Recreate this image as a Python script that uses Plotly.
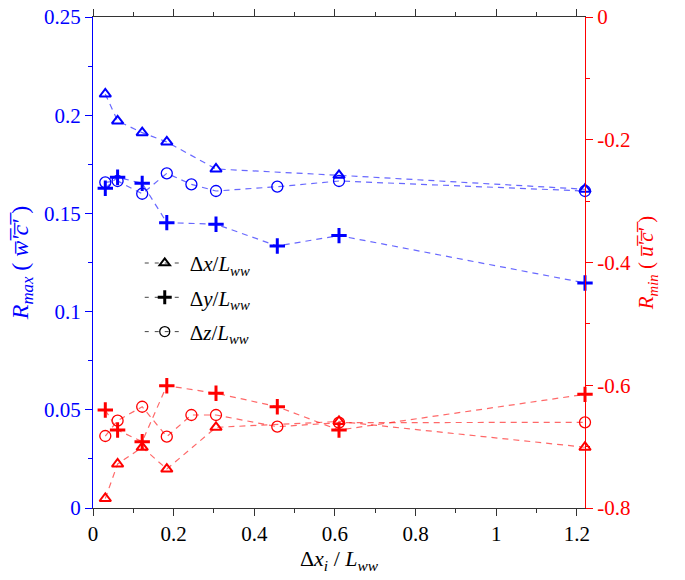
import plotly.graph_objects as go

# Left axis (R_max), blue
x_tri_max = [0.0305, 0.061, 0.122, 0.183, 0.305, 0.61, 1.22]
rmax_dx = [0.2108, 0.1971, 0.1911, 0.1864, 0.1726, 0.1694, 0.1623]
x_plus_max = [0.0305, 0.061, 0.122, 0.183, 0.305, 0.457, 0.61, 1.22]
rmax_dy = [0.1628, 0.1684, 0.1653, 0.1453, 0.1445, 0.1334, 0.1387, 0.1146]
x_circ_max = [0.0305, 0.061, 0.122, 0.183, 0.244, 0.305, 0.457, 0.61, 1.22]
rmax_dz = [0.1658, 0.1665, 0.1600, 0.1704, 0.1648, 0.1614, 0.1636, 0.1665, 0.1614]

# Right axis (R_min), red
x_tri_min = [0.0305, 0.061, 0.122, 0.183, 0.305, 0.61, 1.22]
rmin_dx = [-0.7845, -0.7283, -0.7012, -0.7365, -0.6686, -0.6590, -0.7010]
x_plus_min = [0.0305, 0.061, 0.122, 0.183, 0.305, 0.457, 0.61, 1.22]
rmin_dy = [-0.6403, -0.6730, -0.6920, -0.6007, -0.6130, -0.6350, -0.6730, -0.6148]
x_circ_min = [0.0305, 0.061, 0.122, 0.183, 0.244, 0.305, 0.457, 0.61, 1.22]
rmin_dz = [-0.6827, -0.6577, -0.6350, -0.6838, -0.6485, -0.6485, -0.6675, -0.6610, -0.6604]

legend_names = ["Δ<i>x</i>/<i>L<sub>ww</sub></i>", "Δ<i>y</i>/<i>L<sub>ww</sub></i>", "Δ<i>z</i>/<i>L<sub>ww</sub></i>"]

FONT = "Liberation Serif"
BLUE = "#0000ff"
RED = "#ff0000"
BLUE_L = "rgba(40,40,255,0.7)"
RED_L = "rgba(255,40,40,0.7)"

sym = {"tri": ("triangle-up-open", 10, 2), "plus": ("cross-thin-open", 11, 3), "circ": ("circle-open", 11, 1.3)}

fig = go.Figure()

def add(xs, ys, kind, color, lcolor, yaxis):
    s, sz, lw = sym[kind]
    fig.add_trace(go.Scatter(
        x=xs, y=ys, mode="lines+markers", yaxis=yaxis, showlegend=False,
        line=dict(color=lcolor, width=1.2, dash="6px,5px"),
        marker=dict(symbol=s, size=sz, color=color, line=dict(color=color, width=lw)),
        cliponaxis=False))

add(x_tri_max, rmax_dx, "tri", BLUE, BLUE_L, "y")
add(x_circ_max, rmax_dz, "circ", BLUE, BLUE_L, "y")
add(x_plus_max, rmax_dy, "plus", BLUE, BLUE_L, "y")
add(x_tri_min, rmin_dx, "tri", RED, RED_L, "y2")
add(x_circ_min, rmin_dz, "circ", RED, RED_L, "y2")
add(x_plus_min, rmin_dy, "plus", RED, RED_L, "y2")

for i, (name, kind) in enumerate(zip(legend_names, ["tri", "plus", "circ"])):
    s, sz, lw = sym[kind]
    fig.add_trace(go.Scatter(
        x=[None], y=[None], mode="lines+markers", name=name, legendgroup="g%d" % i,
        line=dict(color="#444", width=1, dash="4px,6px"),
        marker=dict(symbol=s, size=sz - 1, color="black", line=dict(color="black", width=lw))))

fig.update_layout(
    width=685, height=580,
    margin=dict(l=93, r=100, t=17, b=72, autoexpand=False),
    paper_bgcolor="white", plot_bgcolor="white",
    font=dict(family=FONT, size=21, color="black"),
    showlegend=True,
    legend=dict(x=0.095, y=0.54, xanchor="left", yanchor="top",
                bgcolor="rgba(0,0,0,0)", font=dict(size=21, family=FONT),
                tracegroupgap=4, itemwidth=40),
    xaxis=dict(range=[0, 1.22], tickvals=[0, 0.2, 0.4, 0.6, 0.8, 1.0, 1.2],
               ticktext=["0", "0.2", "0.4", "0.6", "0.8", "1", "1.2"],
               ticks="outside", ticklen=7, tickcolor="#333", showline=True,
               linecolor="#333", linewidth=1.2, mirror="ticks", showgrid=False, zeroline=False,
               automargin=False, ticklabeloverflow="allow",
               minor=dict(ticks="outside", dtick=0.1, tick0=0, ticklen=4, tickcolor="#333"),
               title=dict(text="Δ<i>x</i><sub><i>i</i></sub> / <i>L<sub>ww</sub></i>", standoff=0,
                          font=dict(size=22, family=FONT))),
    yaxis=dict(range=[0, 0.25], tickvals=[0, 0.05, 0.1, 0.15, 0.2, 0.25],
               ticktext=["0", "0.05", "0.1", "0.15", "0.2", "0.25"],
               ticks="outside", ticklen=7, tickcolor=BLUE, showline=True, linecolor=BLUE,
               linewidth=1.2, showgrid=False, zeroline=False, automargin=False,
               ticklabeloverflow="allow",
               tickfont=dict(color=BLUE, size=21, family=FONT),
               minor=dict(ticks="outside", dtick=0.025, tick0=0, ticklen=4, tickcolor=BLUE),
               title=dict(text="<i>R<sub>max</sub></i> ( <i>w̅'̅c̅'̅</i> )", standoff=8,
                          font=dict(color=BLUE, size=24, family=FONT))),
    yaxis2=dict(range=[-0.8, 0], overlaying="y", side="right",
                tickvals=[0, -0.2, -0.4, -0.6, -0.8],
                ticktext=["0", "-0.2", "-0.4", "-0.6", "-0.8"],
                ticks="outside", ticklen=7, tickcolor=RED, showline=True, linecolor=RED,
                linewidth=1.2, showgrid=False, zeroline=False, automargin=False,
                ticklabeloverflow="allow",
                tickfont=dict(color=RED, size=21, family=FONT),
                minor=dict(ticks="outside", dtick=0.1, tick0=0, ticklen=4, tickcolor=RED),
                title=dict(text="<i>R<sub>min</sub></i> ( <i>u̅'̅c̅'̅</i> )", standoff=8,
                           font=dict(color=RED, size=21, family=FONT))),
)

fig.write_html("out.html", config={"displayModeBar": False},
               post_script="document.body.style.margin='0px';")
